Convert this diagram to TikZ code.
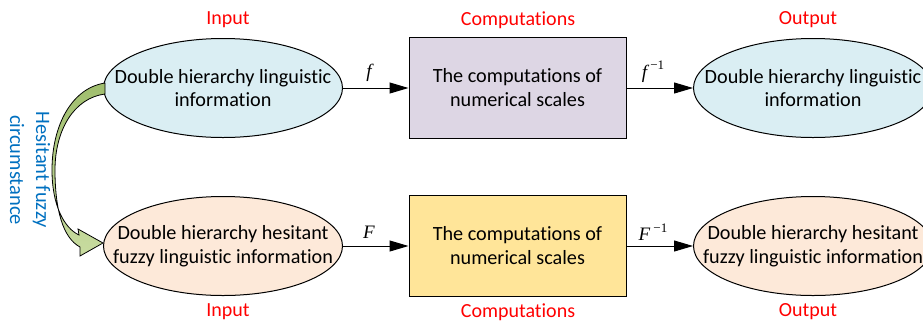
\documentclass[tikz,border=0pt]{standalone}
\usepackage{fontspec}
\setmainfont{Carlito}[Ligatures=NoCommon]
\newfontfamily\tms{Liberation Serif}
\usetikzlibrary{shapes.geometric,arrows.meta}
\definecolor{ellblue}{RGB}{218,238,243}
\definecolor{ellpeach}{RGB}{253,233,217}
\definecolor{boxlav}{RGB}{221,214,228}
\definecolor{boxgold}{RGB}{255,229,153}
\definecolor{lblred}{RGB}{255,0,0}
\definecolor{lblblue}{RGB}{0,112,192}
\definecolor{grdark}{RGB}{160,190,110}
\definecolor{grlight}{RGB}{200,220,160}
\begin{document}
\begin{tikzpicture}[x=1pt,y=-1pt,
  ell/.style={ellipse,draw=black,line width=1pt,minimum width=239pt,minimum height=99pt,inner sep=0pt},
  cbox/.style={rectangle,draw=black,line width=1pt,minimum width=217pt,minimum height=101pt,inner sep=0pt},
  txt/.style={align=center,font=\fontsize{20.2}{23.5}\selectfont,inner sep=0pt},
  lbl/.style={text=lblred,font=\fontsize{20}{22}\selectfont,inner sep=0pt},
  conn/.style={line width=1pt,-{Triangle[length=19pt,width=11pt]}},
  fl/.style={font=\fontsize{19}{21}\selectfont\tms,inner sep=0pt}]
\useasboundingbox (0,0) rectangle (923,322);
\clip (0,0) rectangle (923,322);
% top row
\node[ell,fill=ellblue] (i1) at (223,88) {};
\node[txt] (i1t) at (i1) {Double hierarchy linguistic\\information};
\node[cbox,fill=boxlav] (c1) at (517.5,87.5) {};
\node[txt] (c1t) at (c1) {The computations of\\numerical scales};
\node[ell,fill=ellblue] (o1) at (813,88) {};
\node[txt] (o1t) at (o1) {Double hierarchy linguistic\\information};
% bottom row
\node[ell,fill=ellpeach] (i2) at (223,246) {};
\node[txt] (i2t) at (i2) {Double hierarchy hesitant\\fuzzy linguistic information};
\node[cbox,fill=boxgold] (c2) at (517.5,245.5) {};
\node[txt] (c2t) at (c2) {The computations of\\numerical scales};
\node[ell,fill=ellpeach] (o2) at (813,246) {};
\node[txt] (o2t) at (o2) {Double hierarchy hesitant\\fuzzy linguistic information};
% connectors
\draw[conn] (i1.east) -- (c1.west|-i1.east);
\draw[conn] (c1.east|-o1.west) -- (o1.west);
\draw[conn] (i2.east) -- (c2.west|-i2.east);
\draw[conn] (c2.east|-o2.west) -- (o2.west);
\node[fl] (lf) at (369,73) {\itshape f};
\node[fl] (lfi) at (653,72) {\itshape f\,\raisebox{0.45em}{\upshape\fontsize{13}{14}\selectfont −1}};
\node[fl] (lF) at (369,232) {\itshape F};
\node[fl] (lFi) at (653,232) {\itshape F\,\raisebox{0.45em}{\upshape\fontsize{13}{14}\selectfont −1}};
% red labels
\node[lbl] (l1) at (228,20) {Input};
\node[lbl] (l2) at (518,20) {Computations};
\node[lbl] (l3) at (808,20) {Output};
\node[lbl] (l4) at (228,312) {Input};
\node[lbl] (l5) at (518,312) {Computations};
\node[lbl] (l6) at (808,312) {Output};
% curved green arrow
\shade[top color=grdark,bottom color=grlight,draw=black,line width=0.8pt]
  (105,83) .. controls (72,88) and (52,125) .. (52,170)
  .. controls (52,205) and (64,228) .. (79,235)
  -- (78,229) -- (103,243) -- (80,256) -- (80,247)
  .. controls (63,238) and (55,210) .. (55,170)
  .. controls (55,130) and (74,98) .. (105,94) -- cycle;
\node[rotate=-90,align=center,text=lblblue,font=\fontsize{20.5}{26}\selectfont,inner sep=0pt] (hf) at (30,170) {Hesitant fuzzy\\circumstance};
\end{tikzpicture}
\end{document}
